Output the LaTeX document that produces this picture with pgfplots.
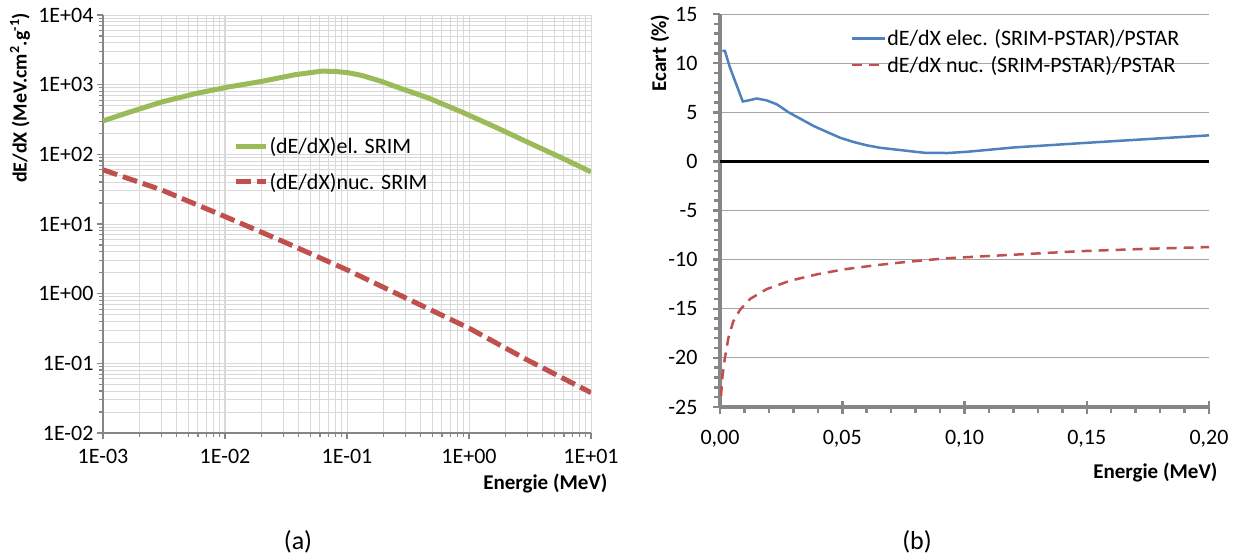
\documentclass[border=0pt]{standalone}
\usepackage{fontspec}
\setmainfont{Carlito}
\usepackage{pgfplots}
\pgfplotsset{compat=1.18}
\definecolor{axgray}{HTML}{868686}
\definecolor{gridlight}{HTML}{D9D9D9}
\definecolor{gridmid}{HTML}{A6A6A6}
\definecolor{elgreen}{HTML}{9BBB59}
\definecolor{nucred}{HTML}{C0504D}
\definecolor{elblue}{HTML}{4F81BD}
\newcommand{\fs}[1]{\fontsize{#1}{#1}\selectfont}

\begin{document}
\begin{tikzpicture}
\path[use as bounding box] (0pt,0pt) rectangle (1240pt,-558pt);

% ---------------- (a) ----------------
\begin{axis}[
  at={(103pt,-433pt)}, anchor=south west, scale only axis,
  width=488pt, height=418pt,
  xmode=log, ymode=log,
  xmin=1e-3, xmax=10, ymin=1e-2, ymax=1e4,
  axis x line*=bottom, axis y line*=left,
  axis line style={axgray, line width=2pt, -},
  xtick={1e-3,1e-2,1e-1,1,10},
  xticklabels={1E-03,1E-02,1E-01,1E+00,1E+01},
  ytick={1e-2,1e-1,1,10,100,1000,10000},
  yticklabels={1E-02,1E-01,1E+00,1E+01,1E+02,1E+03,1E+04},
  tick align=outside, major tick length=6pt, minor tick length=4pt,
  every tick/.style={axgray, line width=1.2pt},
  grid=both,
  major grid style={gridlight, line width=1pt},
  minor grid style={gridlight, line width=0.9pt},
  ticklabel style={font=\fs{22}, text=black},
  xticklabel style={yshift=-7pt},
  legend style={draw=none, fill=none, font=\fs{22}, inner sep=0pt,
    at={(0.266,0.711)}, anchor=north west, row sep=15pt,
    nodes={inner sep=1.5pt}},
  legend cell align=left,
  legend image code/.code={\draw[#1] (0pt,0pt) -- (30pt,0pt);},
]
\addplot[elgreen, line width=5pt] coordinates {
(0.001,302) (0.00161,398) (0.00303,564) (0.0057,743) (0.0106,925)
(0.02,1115) (0.0375,1390) (0.0621,1564) (0.08,1550) (0.1025,1484)
(0.132,1358) (0.192,1114) (0.247,946) (0.464,644) (0.871,406)
(1.63,248) (3.06,148) (5.75,89) (10,56)
};
\addlegendentry{(dE/dX)el. SRIM}
\addplot[nucred, line width=5pt, dash pattern=on 15pt off 6pt] coordinates {
(0.001,60) (0.003,31) (0.01,12.8) (0.03,5.6) (0.1,2.2)
(0.3,0.875) (1,0.32) (3,0.112) (10,0.038)
};
\addlegendentry{(dE/dX)nuc. SRIM}
\end{axis}

% ---------------- (b) ----------------
\begin{axis}[
  at={(720pt,-407pt)}, anchor=south west, scale only axis,
  width=489pt, height=393pt,
  xmin=0, xmax=0.2, ymin=-25, ymax=15,
  axis x line*=bottom, axis y line*=left,
  axis line style={axgray, line width=3.5pt, -},
  xtick={0,0.05,0.1,0.15,0.2},
  xticklabels={{0,00},{0,05},{0,10},{0,15},{0,20}},
  minor x tick num=4,
  extra x ticks={0.05,0.1,0.15,0.2},
  extra x tick labels={},
  extra x tick style={tick align=inside, major tick length=6pt},
  ytick={-25,-20,-15,-10,-5,0,5,10,15},
  yticklabels={-25,-20,-15,-10,-5,0,5,10,15},
  minor y tick num=4,
  tick align=outside, major tick length=7pt, minor tick length=6pt,
  every tick/.style={axgray, line width=2.5pt},
  ymajorgrids,
  major grid style={gridmid, line width=1pt},
  ticklabel style={font=\fs{22}, text=black},
  xticklabel style={yshift=-13pt},
  yticklabel style={xshift=-12pt},
  legend style={draw=none, fill=none, font=\fs{22}, inner sep=0pt,
    at={(0.266,0.965)}, anchor=north west, row sep=6pt,
    nodes={inner sep=1.5pt}},
  legend cell align=left,
  legend image code/.code={\draw[#1] (0pt,0pt) -- (33pt,0pt);},
]
\addplot[black, line width=3pt, forget plot] coordinates {(0,0) (0.2,0)};
\addplot[elblue, line width=2.5pt] coordinates {
(0.001,11.25) (0.002,11.25) (0.004,9.6) (0.0093,6.1) (0.0116,6.2)
(0.015,6.4) (0.0192,6.2) (0.0233,5.8) (0.028,5.0) (0.0328,4.35)
(0.0383,3.6) (0.0437,3.0) (0.0492,2.4) (0.0547,1.97) (0.0601,1.63)
(0.0656,1.38) (0.0738,1.15) (0.0834,0.88) (0.093,0.85) (0.1012,0.98)
(0.1204,1.42) (0.148,1.86) (0.175,2.27) (0.2,2.65)
};
\addlegendentry{dE/dX elec. (SRIM-PSTAR)/PSTAR}
\addplot[nucred, line width=2.5pt, dash pattern=on 10pt off 7pt] coordinates {
(0.0004,-23.9) (0.001,-21.9) (0.002,-20.0) (0.0034,-18) (0.0054,-16.3)
(0.0082,-15.1) (0.0123,-14.0) (0.0191,-13.0) (0.0286,-12.15) (0.0396,-11.5)
(0.0504,-11.0) (0.0627,-10.6) (0.0736,-10.3) (0.0927,-9.86) (0.12,-9.5)
(0.1472,-9.14) (0.1745,-8.9) (0.2,-8.72)
};
\addlegendentry{dE/dX nuc. (SRIM-PSTAR)/PSTAR}
\end{axis}

% titles
\node[font=\bfseries\fs{20}, rotate=90] at (20pt,-98pt) {dE/dX (MeV.cm\textsuperscript{2}.g\textsuperscript{-1})};
\node[font=\bfseries\fs{21}, anchor=east] at (611pt,-483pt) {Energie (MeV)};
\node[font=\fs{26}] at (298pt,-542pt) {(a)};
\node[font=\bfseries\fs{21}, rotate=90] at (660pt,-53pt) {Ecart (\%)};
\node[font=\bfseries\fs{21}, anchor=east] at (1221pt,-472pt) {Energie (MeV)};
\node[font=\fs{26}] at (917pt,-542pt) {(b)};
\end{tikzpicture}
\end{document}
